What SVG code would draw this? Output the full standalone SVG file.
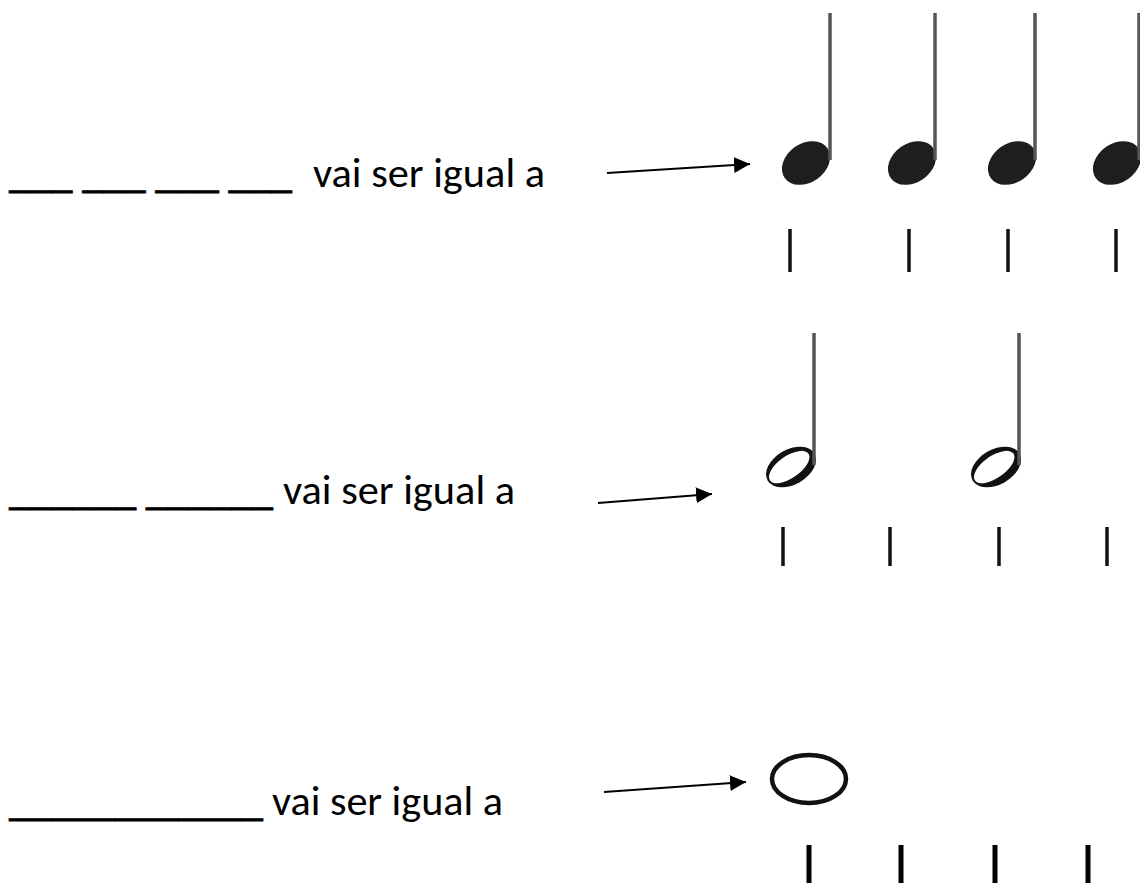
<svg xmlns="http://www.w3.org/2000/svg" width="1140" height="883" viewBox="0 0 1140 883">
<style>
.t{font-family:"Carlito","Open Sans","Liberation Sans",sans-serif;font-size:41px;fill:#000;}
.u{font-family:"Carlito","Open Sans","Liberation Sans",sans-serif;font-size:41px;fill:#000;stroke:#000;stroke-width:0.8;}
.stem{stroke:#555;stroke-width:3.5;}
.tick{stroke:#111;stroke-width:3.5;}
.tick3{stroke:#000;stroke-width:5;}
.arrow{stroke:#000;stroke-width:2;fill:none;marker-end:url(#ah);}
.qh{fill:#1e1e1e;}
</style>
<defs>
<marker id="ah" markerUnits="userSpaceOnUse" markerWidth="17" markerHeight="17" refX="16" refY="8" orient="auto">
<path d="M0,0 L16,8 L0,16 z" fill="#000"/>
</marker>
</defs>
<rect width="1140" height="883" fill="#fff"/>

<g id="row1-label">
<text class="u" x="9" y="187" textLength="283" lengthAdjust="spacingAndGlyphs" xml:space="preserve">___ ___ ___ ___</text>
<text class="t" x="313" y="187" textLength="232" lengthAdjust="spacingAndGlyphs">vai ser igual a</text>
</g>
<g id="row2-label">
<text class="u" x="9" y="504" textLength="264" lengthAdjust="spacingAndGlyphs" xml:space="preserve">______ ______</text>
<text class="t" x="283" y="504" textLength="232" lengthAdjust="spacingAndGlyphs">vai ser igual a</text>
</g>
<g id="row3-label">
<text class="u" x="9" y="815" textLength="254" lengthAdjust="spacingAndGlyphs">____________</text>
<text class="t" x="272" y="815" textLength="231" lengthAdjust="spacingAndGlyphs">vai ser igual a</text>
</g>

<g id="connectors">
<line class="arrow" x1="607" y1="173" x2="750" y2="164"/>
<line class="arrow" x1="598" y1="503" x2="712" y2="494"/>
<line class="arrow" x1="604" y1="792" x2="746" y2="782"/>
</g>

<g id="quarter-notes">
<g id="q1"><ellipse class="qh" cx="806" cy="163" rx="26" ry="19.5" transform="rotate(-35 806 163)"/><line class="stem" x1="830" y1="13" x2="830" y2="160"/></g>
<g id="q2"><ellipse class="qh" cx="912" cy="163" rx="26" ry="19.5" transform="rotate(-35 912 163)"/><line class="stem" x1="935" y1="13" x2="935" y2="160"/></g>
<g id="q3"><ellipse class="qh" cx="1012" cy="163" rx="26" ry="19.5" transform="rotate(-35 1012 163)"/><line class="stem" x1="1035" y1="13" x2="1035" y2="160"/></g>
<g id="q4"><ellipse class="qh" cx="1117" cy="163" rx="26" ry="19.5" transform="rotate(-35 1117 163)"/><line class="stem" x1="1139" y1="13" x2="1139" y2="160"/></g>
</g>
<g id="row1-ticks">
<line class="tick" x1="790" y1="229" x2="790" y2="272"/>
<line class="tick" x1="909" y1="229" x2="909" y2="272"/>
<line class="tick" x1="1008" y1="229" x2="1008" y2="272"/>
<line class="tick" x1="1116" y1="229" x2="1116" y2="272"/>
</g>

<g id="half-notes">
<g id="h1">
<g transform="translate(791 467) rotate(-30)"><ellipse rx="27" ry="17.5" fill="#111"/><ellipse cx="-1.5" cy="-1" rx="23.5" ry="11" fill="#fff" transform="rotate(-5)"/></g>
<line class="stem" x1="814" y1="333" x2="814" y2="465"/>
</g>
<g id="h2">
<g transform="translate(996 467) rotate(-30)"><ellipse rx="27" ry="17.5" fill="#111"/><ellipse cx="-1.5" cy="-1" rx="23.5" ry="11" fill="#fff" transform="rotate(-5)"/></g>
<line class="stem" x1="1019" y1="333" x2="1019" y2="465"/>
</g>
</g>
<g id="row2-ticks">
<line class="tick" x1="783" y1="527" x2="783" y2="566"/>
<line class="tick" x1="890" y1="527" x2="890" y2="566"/>
<line class="tick" x1="999" y1="527" x2="999" y2="566" stroke="#444" stroke-width="5"/>
<line class="tick" x1="1107" y1="527" x2="1107" y2="566" stroke="#444" stroke-width="5"/>
</g>

<g id="whole-note">
<ellipse cx="809" cy="779" rx="37" ry="24" fill="none" stroke="#111" stroke-width="4.5"/>
</g>
<g id="row3-ticks">
<line class="tick3" x1="809" y1="845" x2="809" y2="883"/>
<line class="tick3" x1="901" y1="845" x2="901" y2="883"/>
<line class="tick3" x1="995" y1="845" x2="995" y2="883"/>
<line class="tick3" x1="1088" y1="845" x2="1088" y2="883"/>
</g>
</svg>
